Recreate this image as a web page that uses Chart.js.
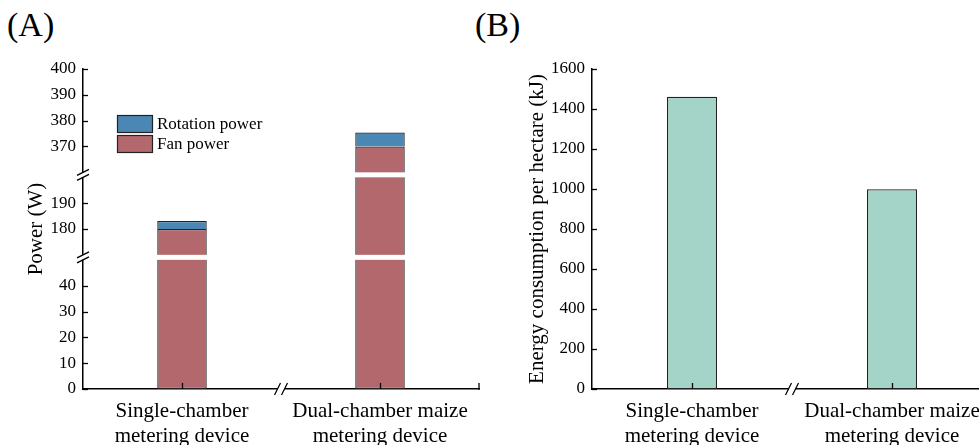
<!DOCTYPE html>
<html>
<head>
<meta charset="utf-8">
<script src="https://cdn.jsdelivr.net/npm/chart.js@4.4.1/dist/chart.umd.min.js"></script>
<style>
  html, body { margin: 0; padding: 0; background: #fff; }
  .wrap { position: relative; width: 979px; height: 445px; overflow: hidden; background: #fff; }
  canvas { position: absolute; top: 0; }
  #chartA { left: 0; }
  #chartB { left: 490px; }
  .tag { position: absolute; top: 8px; font-family: 'Liberation Serif', 'Times New Roman', serif; font-size: 34px; line-height: 1; color: #000; }
</style>
</head>
<body>
<div class="wrap">
  <div class="tag" style="left:7px">(A)</div>
  <div class="tag" style="left:475px">(B)</div>
  <canvas id="chartA" width="500" height="445"></canvas>
  <canvas id="chartB" width="520" height="445"></canvas>
</div>
<script>
// data
const categories = [['Single-chamber', 'metering device'], ['Dual-chamber maize', 'metering device']];
const fanPower = [180, 370];
const rotationPower = [3.1, 5.4];
const powerTicks = [0, 10, 20, 30, 40, 180, 190, 370, 380, 390, 400];
const powerSegments = [[0, 50], [170, 200], [360, 400]];
const energyPerHectare = [1461, 999];
const energyTicks = [0, 200, 400, 600, 800, 1000, 1200, 1400, 1600];

const FONT = "'Liberation Serif', 'Times New Roman', serif";
const INK = '#000';
const BREAK_GAP = 5;

Chart.defaults.font.family = FONT;
Chart.defaults.color = INK;

// linear scale with the axis cut into segments (broken axis)
class BrokenLinearScale extends Chart.LinearScale {
  static id = 'brokenLinear';
  static defaults = {};

  buildTicks() {
    return powerTicks.map(v => ({ value: v }));
  }

  unitPx() {
    const units = powerSegments.reduce((s, g) => s + g[1] - g[0], 0);
    return (this.height - BREAK_GAP * (powerSegments.length - 1)) / units;
  }

  getPixelForValue(value) {
    const u = this.unitPx();
    let y = this.bottom;
    for (let i = 0; i < powerSegments.length; i++) {
      const [lo, hi] = powerSegments[i];
      if (value <= hi || i === powerSegments.length - 1) {
        return y - (Math.max(value, lo) - lo) * u;
      }
      y -= (hi - lo) * u + BREAK_GAP;
    }
    return y;
  }

  getValueForPixel(pixel) {
    const u = this.unitPx();
    let y = this.bottom;
    for (let i = 0; i < powerSegments.length; i++) {
      const [lo, hi] = powerSegments[i];
      const top = y - (hi - lo) * u;
      if (pixel >= top || i === powerSegments.length - 1) {
        return lo + (y - pixel) / u;
      }
      y = top - BREAK_GAP;
    }
    return powerSegments[powerSegments.length - 1][1];
  }
}
Chart.register(BrokenLinearScale);

function line(ctx, x1, y1, x2, y2) {
  ctx.beginPath();
  ctx.moveTo(x1, y1);
  ctx.lineTo(x2, y2);
  ctx.stroke();
}

// inward ticks, axis breaks, end cap and the in-plot legend
const axisDecor = {
  id: 'axisDecor',
  afterDraw(chart, args, opts) {
    const ctx = chart.ctx;
    const { left, right, bottom } = chart.chartArea;
    const xs = chart.scales.x, ys = chart.scales.y;
    ctx.save();
    ctx.strokeStyle = INK;
    ctx.lineWidth = 1.3;

    ys.ticks.forEach(t => {
      const py = Math.round(ys.getPixelForValue(t.value)) + 0.5;
      line(ctx, left, py, left + 5, py);
    });
    xs.ticks.forEach((t, i) => {
      const px = Math.round(xs.getPixelForTick(i)) + 0.5;
      line(ctx, px, bottom, px, bottom - 6);
    });
    if (opts.endCap) line(ctx, right, bottom + 0.7, right, bottom - 6);

    // x axis break between the two categories
    const xb = (xs.getPixelForTick(0) + xs.getPixelForTick(1)) / 2;
    ctx.fillStyle = '#fff';
    ctx.fillRect(xb - 3.5, bottom - 3, 7, 6);
    [xb - 3.5, xb + 3.5].forEach(x => line(ctx, x - 3, bottom + 6, x + 3, bottom - 6));

    // y axis breaks
    if (opts.segments) {
      for (let i = 0; i < opts.segments.length - 1; i++) {
        const y0 = ys.getPixelForValue(opts.segments[i][1]);
        const y1 = ys.getPixelForValue(opts.segments[i + 1][0]);
        ctx.fillStyle = '#fff';
        ctx.fillRect(left - 4, y1, right - left + 4, y0 - y1);
        [y0, y1].forEach(y => line(ctx, left - 6, y + 3, left + 6, y - 3));
      }
    }

    if (opts.legend) {
      const order = chart.data.datasets.slice().reverse();
      order.forEach((ds, i) => {
        const top = 115 + i * 20;
        ctx.fillStyle = ds.backgroundColor;
        ctx.fillRect(117, top, 36, 18);
        ctx.lineWidth = 1.2;
        ctx.strokeStyle = '#222';
        ctx.strokeRect(117.5, top + 0.5, 35, 17);
        ctx.fillStyle = INK;
        ctx.font = '17px ' + FONT;
        ctx.textBaseline = 'middle';
        ctx.textAlign = 'left';
        ctx.fillText(ds.label, 157, top + 10);
      });
    }
    ctx.restore();
  }
};

const xAxis = (stacked) => ({
  type: 'category',
  stacked,
  offset: true,
  grid: { display: false, drawTicks: false },
  border: { display: true, color: INK, width: 1.5 },
  ticks: { color: INK, font: { family: FONT, size: 21, lineHeight: 1.2 }, padding: 10, maxRotation: 0, autoSkip: false },
  afterFit: s => { s.height = 56; }
});

const tickFont = { family: FONT, size: 17 };

new Chart(document.getElementById('chartA'), {
  type: 'bar',
  data: {
    labels: categories,
    datasets: [
      { label: 'Fan power', data: fanPower, backgroundColor: '#b3686d', borderColor: '#222', borderWidth: 1.3, borderSkipped: false },
      { label: 'Rotation power', data: rotationPower, backgroundColor: '#4a87b5', borderColor: '#222', borderWidth: 1.3, borderSkipped: 'start' }
    ]
  },
  options: {
    responsive: false,
    animation: false,
    events: [],
    barPercentage: 0.5,
    categoryPercentage: 0.5,
    layout: { padding: { left: 0, right: 21, top: 69, bottom: 0 } },
    plugins: {
      legend: { display: false },
      tooltip: { enabled: false },
      axisDecor: { segments: powerSegments, endCap: true, legend: true }
    },
    scales: {
      x: xAxis(true),
      y: {
        type: 'brokenLinear',
        stacked: true,
        min: 0,
        max: 400,
        grid: { display: false, drawTicks: false },
        border: { display: true, color: INK, width: 1.5 },
        ticks: { color: INK, font: tickFont, padding: 7, autoSkip: false, callback: v => String(v) },
        title: { display: true, text: 'Power (W)', color: INK, font: { family: FONT, size: 21, lineHeight: 1.2 }, padding: { top: 24 } },
        afterFit: s => { s.width = 83; }
      }
    }
  },
  plugins: [axisDecor]
});

new Chart(document.getElementById('chartB'), {
  type: 'bar',
  data: {
    labels: categories,
    datasets: [
      { label: 'Energy consumption per hectare', data: energyPerHectare, backgroundColor: '#a3d4c7', borderColor: '#222', borderWidth: 1.3, borderSkipped: false }
    ]
  },
  options: {
    responsive: false,
    animation: false,
    events: [],
    barPercentage: 0.5,
    categoryPercentage: 0.5,
    layout: { padding: { left: 0, right: 18, top: 69, bottom: 0 } },
    plugins: {
      legend: { display: false },
      tooltip: { enabled: false },
      axisDecor: { endCap: false }
    },
    scales: {
      x: xAxis(false),
      y: {
        min: 0,
        max: 1600,
        afterBuildTicks: s => { s.ticks = energyTicks.map(v => ({ value: v })); },
        grid: { display: false, drawTicks: false },
        border: { display: true, color: INK, width: 1.5 },
        ticks: { color: INK, font: tickFont, padding: 7, autoSkip: false, callback: v => String(v) },
        title: { display: true, text: 'Energy consumption per hectare (kJ)', color: INK, font: { family: FONT, size: 21, lineHeight: 1.2 }, padding: { top: 35 } },
        afterFit: s => { s.width = 102; }
      }
    }
  },
  plugins: [axisDecor]
});
</script>
</body>
</html>
